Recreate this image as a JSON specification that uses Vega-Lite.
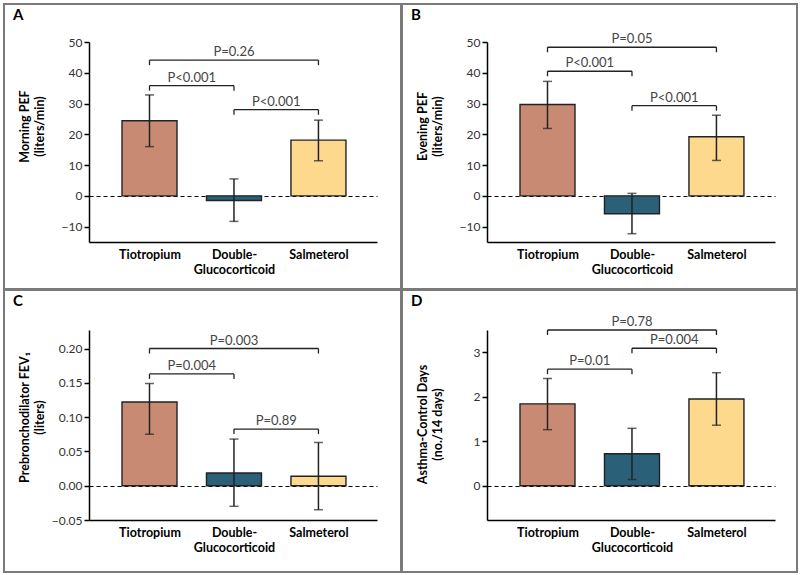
{
"$schema":"https://vega.github.io/schema/vega-lite/v6.json",
"background":"white",
"padding":{"left":3,"top":3,"right":0,"bottom":0},
"spacing":-2,
"config":{"view":{"stroke":"#7a7a7a","strokeWidth":2},"font":"Lato","concat":{"spacing":-2},
"title":{"anchor":"start","frame":"group","offset":0,"dx":9,"dy":23,"fontSize":15,"fontWeight":"bold","color":"black","baseline":"alphabetic"}},
"datasets":{
"bars":[
{"panel":"A","group":"Tiotropium","pos":1,"mean":24.4,"lo":16.0,"hi":32.8},
{"panel":"A","group":"Double-Glucocorticoid","pos":2,"mean":-1.5,"lo":-8.3,"hi":5.5},
{"panel":"A","group":"Salmeterol","pos":3,"mean":18.1,"lo":11.4,"hi":24.6},
{"panel":"B","group":"Tiotropium","pos":1,"mean":29.7,"lo":21.9,"hi":37.2},
{"panel":"B","group":"Double-Glucocorticoid","pos":2,"mean":-5.8,"lo":-12.3,"hi":0.8},
{"panel":"B","group":"Salmeterol","pos":3,"mean":19.2,"lo":11.5,"hi":26.2},
{"panel":"C","group":"Tiotropium","pos":1,"mean":0.122,"lo":0.075,"hi":0.149},
{"panel":"C","group":"Double-Glucocorticoid","pos":2,"mean":0.0186,"lo":-0.030,"hi":0.068},
{"panel":"C","group":"Salmeterol","pos":3,"mean":0.0137,"lo":-0.035,"hi":0.063},
{"panel":"D","group":"Tiotropium","pos":1,"mean":1.84,"lo":1.26,"hi":2.41},
{"panel":"D","group":"Double-Glucocorticoid","pos":2,"mean":0.72,"lo":0.14,"hi":1.29},
{"panel":"D","group":"Salmeterol","pos":3,"mean":1.95,"lo":1.36,"hi":2.54}
],
"brackets":[
{"panel":"A","from":1,"to":3,"y":44.1,"label":"P=0.26"},
{"panel":"A","from":1,"to":2,"y":35.8,"label":"P<0.001"},
{"panel":"A","from":2,"to":3,"y":28.0,"label":"P<0.001"},
{"panel":"B","from":1,"to":3,"y":48.3,"label":"P=0.05"},
{"panel":"B","from":1,"to":2,"y":40.5,"label":"P<0.001"},
{"panel":"B","from":2,"to":3,"y":29.3,"label":"P<0.001"},
{"panel":"C","from":1,"to":3,"y":0.200,"label":"P=0.003"},
{"panel":"C","from":1,"to":2,"y":0.163,"label":"P=0.004"},
{"panel":"C","from":2,"to":3,"y":0.0825,"label":"P=0.89"},
{"panel":"D","from":1,"to":3,"y":3.5,"label":"P=0.78"},
{"panel":"D","from":2,"to":3,"y":3.09,"label":"P=0.004"},
{"panel":"D","from":1,"to":2,"y":2.62,"label":"P=0.01"}
]
},
"vconcat":[
{"spacing":-2,"hconcat":[
{"width":397,"height":285,
"title":{"text":"A"},
"layer":[
{"data":{"name":"bars"},"transform":[{"filter":"datum.panel==='A'"}],
"mark":{"type":"bar","width":55,"stroke":"#222","strokeWidth":1.4},
"encoding":{
"x":{"field":"pos","type":"quantitative","scale":{"domain":[0.343,3.634],"range":[85,373],"nice":false,"zero":false},
"axis":{"values":[1,2,3],"labelExpr":"datum.value === 1 ? 'Tiotropium' : datum.value === 2 ? ['Double-', 'Glucocorticoid'] : 'Salmeterol'","ticks":false,"grid":false,"domainColor":"black","domainWidth":1.5,"labelFontSize":12.5,"labelFontWeight":"bold","labelColor":"black","labelPadding":6,"labelLineHeight":15,"labelAngle":0,"title":null,"offset":-47}},
"y":{"field":"mean","type":"quantitative","scale":{"domain":[-15,50],"range":[238,38],"nice":false,"zero":false},
"axis":{"values":[-10,0,10,20,30,40,50],"offset":-85,"tickSize":5,"tickWidth":1.5,"tickColor":"black","domainColor":"black","domainWidth":1.5,"labelFontSize":12,"labelColor":"#333","labelPadding":2,"title":["Morning PEF","(liters/min)"],"titleFontSize":12.5,"titleFontWeight":"bold","titleColor":"black","titleX":-58,"titleY":122,"titleLineHeight":15,"grid":true,"gridColor":"black","gridDash":[4,3],"gridWidth":1.2,"gridOpacity":{"condition":{"test":"datum.value === 0","value":1},"value":0}}},
"fill":{"field":"group","type":"nominal","scale":{"domain":["Tiotropium","Double-Glucocorticoid","Salmeterol"],"range":["#C98A73","#2A6179","#FDD98E"]},"legend":null}}},
{"data":{"name":"bars"},"transform":[{"filter":"datum.panel==='A'"}],
"mark":{"type":"rule","strokeWidth":1.5,"color":"#222"},
"encoding":{"x":{"field":"pos","type":"quantitative"},"y":{"field":"lo","type":"quantitative"},"y2":{"field":"hi"}}},
{"data":{"name":"bars"},"transform":[{"filter":"datum.panel==='A'"}],
"mark":{"type":"tick","orient":"horizontal","size":9,"thickness":1.5,"color":"#222"},
"encoding":{"x":{"field":"pos","type":"quantitative"},"y":{"field":"hi","type":"quantitative"}}},
{"data":{"name":"bars"},"transform":[{"filter":"datum.panel==='A'"}],
"mark":{"type":"tick","orient":"horizontal","size":9,"thickness":1.5,"color":"#222"},
"encoding":{"x":{"field":"pos","type":"quantitative"},"y":{"field":"lo","type":"quantitative"}}},
{"data":{"name":"brackets"},"transform":[{"filter":"datum.panel==='A'"}],
"mark":{"type":"rule","strokeWidth":1.3,"color":"#222"},
"encoding":{"x":{"field":"from","type":"quantitative"},"x2":{"field":"to"},"y":{"field":"y","type":"quantitative"}}},
{"data":{"name":"brackets"},"transform":[{"filter":"datum.panel==='A'"},{"fold":["from","to"],"as":["end","xend"]}],
"mark":{"type":"rule","strokeWidth":1.3,"color":"#222","y2Offset":5},
"encoding":{"x":{"field":"xend","type":"quantitative"},"y":{"field":"y","type":"quantitative"},"y2":{"field":"y"}}},
{"data":{"name":"brackets"},"transform":[{"filter":"datum.panel==='A'"},{"fold":["from","to"],"as":["end","xend"]}],
"mark":{"type":"text","baseline":"bottom","dy":-1,"fontSize":13,"color":"#444"},
"encoding":{"x":{"field":"xend","aggregate":"mean","type":"quantitative"},"y":{"field":"y","type":"quantitative"},"text":{"field":"label"}}}
]},
{"width":395,"height":285,
"title":{"text":"B"},
"layer":[
{"data":{"name":"bars"},"transform":[{"filter":"datum.panel==='B'"}],
"mark":{"type":"bar","width":55,"stroke":"#222","strokeWidth":1.4},
"encoding":{
"x":{"field":"pos","type":"quantitative","scale":{"domain":[0.343,3.634],"range":[85,373],"nice":false,"zero":false},
"axis":{"values":[1,2,3],"labelExpr":"datum.value === 1 ? 'Tiotropium' : datum.value === 2 ? ['Double-', 'Glucocorticoid'] : 'Salmeterol'","ticks":false,"grid":false,"domainColor":"black","domainWidth":1.5,"labelFontSize":12.5,"labelFontWeight":"bold","labelColor":"black","labelPadding":6,"labelLineHeight":15,"labelAngle":0,"title":null,"offset":-47}},
"y":{"field":"mean","type":"quantitative","scale":{"domain":[-15,50],"range":[238,38],"nice":false,"zero":false},
"axis":{"values":[-10,0,10,20,30,40,50],"offset":-85,"tickSize":5,"tickWidth":1.5,"tickColor":"black","domainColor":"black","domainWidth":1.5,"labelFontSize":12,"labelColor":"#333","labelPadding":2,"title":["Evening PEF","(liters/min)"],"titleFontSize":12.5,"titleFontWeight":"bold","titleColor":"black","titleX":-58,"titleY":122,"titleLineHeight":15,"grid":true,"gridColor":"black","gridDash":[4,3],"gridWidth":1.2,"gridOpacity":{"condition":{"test":"datum.value === 0","value":1},"value":0}}},
"fill":{"field":"group","type":"nominal","scale":{"domain":["Tiotropium","Double-Glucocorticoid","Salmeterol"],"range":["#C98A73","#2A6179","#FDD98E"]},"legend":null}}},
{"data":{"name":"bars"},"transform":[{"filter":"datum.panel==='B'"}],
"mark":{"type":"rule","strokeWidth":1.5,"color":"#222"},
"encoding":{"x":{"field":"pos","type":"quantitative"},"y":{"field":"lo","type":"quantitative"},"y2":{"field":"hi"}}},
{"data":{"name":"bars"},"transform":[{"filter":"datum.panel==='B'"}],
"mark":{"type":"tick","orient":"horizontal","size":9,"thickness":1.5,"color":"#222"},
"encoding":{"x":{"field":"pos","type":"quantitative"},"y":{"field":"hi","type":"quantitative"}}},
{"data":{"name":"bars"},"transform":[{"filter":"datum.panel==='B'"}],
"mark":{"type":"tick","orient":"horizontal","size":9,"thickness":1.5,"color":"#222"},
"encoding":{"x":{"field":"pos","type":"quantitative"},"y":{"field":"lo","type":"quantitative"}}},
{"data":{"name":"brackets"},"transform":[{"filter":"datum.panel==='B'"}],
"mark":{"type":"rule","strokeWidth":1.3,"color":"#222"},
"encoding":{"x":{"field":"from","type":"quantitative"},"x2":{"field":"to"},"y":{"field":"y","type":"quantitative"}}},
{"data":{"name":"brackets"},"transform":[{"filter":"datum.panel==='B'"},{"fold":["from","to"],"as":["end","xend"]}],
"mark":{"type":"rule","strokeWidth":1.3,"color":"#222","y2Offset":5},
"encoding":{"x":{"field":"xend","type":"quantitative"},"y":{"field":"y","type":"quantitative"},"y2":{"field":"y"}}},
{"data":{"name":"brackets"},"transform":[{"filter":"datum.panel==='B'"},{"fold":["from","to"],"as":["end","xend"]}],
"mark":{"type":"text","baseline":"bottom","dy":-1,"fontSize":13,"color":"#444"},
"encoding":{"x":{"field":"xend","aggregate":"mean","type":"quantitative"},"y":{"field":"y","type":"quantitative"},"text":{"field":"label"}}}
]}
]},
{"spacing":-2,"hconcat":[
{"width":397,"height":282,
"title":{"text":"C"},
"layer":[
{"data":{"name":"bars"},"transform":[{"filter":"datum.panel==='C'"}],
"mark":{"type":"bar","width":55,"stroke":"#222","strokeWidth":1.4},
"encoding":{
"x":{"field":"pos","type":"quantitative","scale":{"domain":[0.343,3.634],"range":[85,373],"nice":false,"zero":false},
"axis":{"values":[1,2,3],"labelExpr":"datum.value === 1 ? 'Tiotropium' : datum.value === 2 ? ['Double-', 'Glucocorticoid'] : 'Salmeterol'","ticks":false,"grid":false,"domainColor":"black","domainWidth":1.5,"labelFontSize":12.5,"labelFontWeight":"bold","labelColor":"black","labelPadding":6,"labelLineHeight":15,"labelAngle":0,"title":null,"offset":-52}},
"y":{"field":"mean","type":"quantitative","scale":{"domain":[-0.05,0.227],"range":[230,40],"nice":false,"zero":false},
"axis":{"values":[-0.05,0,0.05,0.1,0.15,0.2],"format":".2f","offset":-85,"tickSize":5,"tickWidth":1.5,"tickColor":"black","domainColor":"black","domainWidth":1.5,"labelFontSize":12,"labelColor":"#333","labelPadding":2,"title":["Prebronchodilator FEV₁","(liters)"],"titleFontSize":12.5,"titleFontWeight":"bold","titleColor":"black","titleX":-58,"titleY":127,"titleLineHeight":15,"grid":true,"gridColor":"black","gridDash":[4,3],"gridWidth":1.2,"gridOpacity":{"condition":{"test":"datum.value === 0","value":1},"value":0}}},
"fill":{"field":"group","type":"nominal","scale":{"domain":["Tiotropium","Double-Glucocorticoid","Salmeterol"],"range":["#C98A73","#2A6179","#FDD98E"]},"legend":null}}},
{"data":{"name":"bars"},"transform":[{"filter":"datum.panel==='C'"}],
"mark":{"type":"rule","strokeWidth":1.5,"color":"#222"},
"encoding":{"x":{"field":"pos","type":"quantitative"},"y":{"field":"lo","type":"quantitative"},"y2":{"field":"hi"}}},
{"data":{"name":"bars"},"transform":[{"filter":"datum.panel==='C'"}],
"mark":{"type":"tick","orient":"horizontal","size":9,"thickness":1.5,"color":"#222"},
"encoding":{"x":{"field":"pos","type":"quantitative"},"y":{"field":"hi","type":"quantitative"}}},
{"data":{"name":"bars"},"transform":[{"filter":"datum.panel==='C'"}],
"mark":{"type":"tick","orient":"horizontal","size":9,"thickness":1.5,"color":"#222"},
"encoding":{"x":{"field":"pos","type":"quantitative"},"y":{"field":"lo","type":"quantitative"}}},
{"data":{"name":"brackets"},"transform":[{"filter":"datum.panel==='C'"}],
"mark":{"type":"rule","strokeWidth":1.3,"color":"#222"},
"encoding":{"x":{"field":"from","type":"quantitative"},"x2":{"field":"to"},"y":{"field":"y","type":"quantitative"}}},
{"data":{"name":"brackets"},"transform":[{"filter":"datum.panel==='C'"},{"fold":["from","to"],"as":["end","xend"]}],
"mark":{"type":"rule","strokeWidth":1.3,"color":"#222","y2Offset":5},
"encoding":{"x":{"field":"xend","type":"quantitative"},"y":{"field":"y","type":"quantitative"},"y2":{"field":"y"}}},
{"data":{"name":"brackets"},"transform":[{"filter":"datum.panel==='C'"},{"fold":["from","to"],"as":["end","xend"]}],
"mark":{"type":"text","baseline":"bottom","dy":-1,"fontSize":13,"color":"#444"},
"encoding":{"x":{"field":"xend","aggregate":"mean","type":"quantitative"},"y":{"field":"y","type":"quantitative"},"text":{"field":"label"}}}
]},
{"width":395,"height":282,
"title":{"text":"D"},
"layer":[
{"data":{"name":"bars"},"transform":[{"filter":"datum.panel==='D'"}],
"mark":{"type":"bar","width":55,"stroke":"#222","strokeWidth":1.4},
"encoding":{
"x":{"field":"pos","type":"quantitative","scale":{"domain":[0.343,3.634],"range":[85,373],"nice":false,"zero":false},
"axis":{"values":[1,2,3],"labelExpr":"datum.value === 1 ? 'Tiotropium' : datum.value === 2 ? ['Double-', 'Glucocorticoid'] : 'Salmeterol'","ticks":false,"grid":false,"domainColor":"black","domainWidth":1.5,"labelFontSize":12.5,"labelFontWeight":"bold","labelColor":"black","labelPadding":6,"labelLineHeight":15,"labelAngle":0,"title":null,"offset":-52}},
"y":{"field":"mean","type":"quantitative","scale":{"domain":[-0.77,3.5],"range":[230,40],"nice":false,"zero":false},
"axis":{"values":[0,1,2,3],"format":"d","offset":-85,"tickSize":5,"tickWidth":1.5,"tickColor":"black","domainColor":"black","domainWidth":1.5,"labelFontSize":12,"labelColor":"#333","labelPadding":2,"title":["Asthma-Control Days","(no./14 days)"],"titleFontSize":12.5,"titleFontWeight":"bold","titleColor":"black","titleX":-58,"titleY":134,"titleLineHeight":15,"grid":true,"gridColor":"black","gridDash":[4,3],"gridWidth":1.2,"gridOpacity":{"condition":{"test":"datum.value === 0","value":1},"value":0}}},
"fill":{"field":"group","type":"nominal","scale":{"domain":["Tiotropium","Double-Glucocorticoid","Salmeterol"],"range":["#C98A73","#2A6179","#FDD98E"]},"legend":null}}},
{"data":{"name":"bars"},"transform":[{"filter":"datum.panel==='D'"}],
"mark":{"type":"rule","strokeWidth":1.5,"color":"#222"},
"encoding":{"x":{"field":"pos","type":"quantitative"},"y":{"field":"lo","type":"quantitative"},"y2":{"field":"hi"}}},
{"data":{"name":"bars"},"transform":[{"filter":"datum.panel==='D'"}],
"mark":{"type":"tick","orient":"horizontal","size":9,"thickness":1.5,"color":"#222"},
"encoding":{"x":{"field":"pos","type":"quantitative"},"y":{"field":"hi","type":"quantitative"}}},
{"data":{"name":"bars"},"transform":[{"filter":"datum.panel==='D'"}],
"mark":{"type":"tick","orient":"horizontal","size":9,"thickness":1.5,"color":"#222"},
"encoding":{"x":{"field":"pos","type":"quantitative"},"y":{"field":"lo","type":"quantitative"}}},
{"data":{"name":"brackets"},"transform":[{"filter":"datum.panel==='D'"}],
"mark":{"type":"rule","strokeWidth":1.3,"color":"#222"},
"encoding":{"x":{"field":"from","type":"quantitative"},"x2":{"field":"to"},"y":{"field":"y","type":"quantitative"}}},
{"data":{"name":"brackets"},"transform":[{"filter":"datum.panel==='D'"},{"fold":["from","to"],"as":["end","xend"]}],
"mark":{"type":"rule","strokeWidth":1.3,"color":"#222","y2Offset":5},
"encoding":{"x":{"field":"xend","type":"quantitative"},"y":{"field":"y","type":"quantitative"},"y2":{"field":"y"}}},
{"data":{"name":"brackets"},"transform":[{"filter":"datum.panel==='D'"},{"fold":["from","to"],"as":["end","xend"]}],
"mark":{"type":"text","baseline":"bottom","dy":-1,"fontSize":13,"color":"#444"},
"encoding":{"x":{"field":"xend","aggregate":"mean","type":"quantitative"},"y":{"field":"y","type":"quantitative"},"text":{"field":"label"}}}
]}
]}
]
}
